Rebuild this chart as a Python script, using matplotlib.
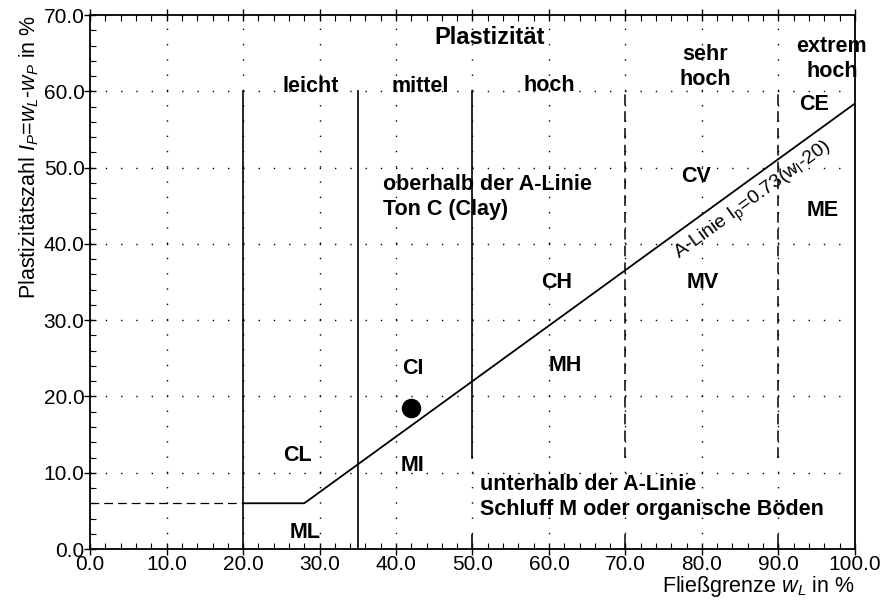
import matplotlib
matplotlib.use("Agg")
import matplotlib.pyplot as plt
from matplotlib.ticker import MultipleLocator, FormatStrFormatter

plt.rcParams['font.family'] = ['Liberation Sans', 'DejaVu Sans']
plt.rcParams['mathtext.fontset'] = 'custom'
plt.rcParams['mathtext.rm'] = 'Liberation Sans'
plt.rcParams['mathtext.it'] = 'Liberation Sans:italic'

# A-Linie: Ip = 0.73 (wL - 20), mit waagerechtem Stueck bei Ip = 6
a_x = [20, 28, 100]
a_y = [6.0, 6.0, 0.73 * (100 - 20)]

# Grenzen der Plastizitaet
solid_x = [20, 35]
broken_x = [50]
dashed_x = [70, 90]

# Messpunkt
point_x = [42]
point_y = [18.5]

# Bodengruppen (Text, wL, Ip)
groups = [("CE", 94.6, 58.3), ("CV", 79.3, 48.9), ("ME", 95.8, 44.4),
          ("MV", 80.1, 34.9), ("CH", 61.0, 35.0), ("MH", 62.2, 24.0),
          ("CI", 42.2, 23.7), ("CL", 27.1, 12.3), ("MI", 42.2, 10.9),
          ("ML", 28.1, 2.2)]
plast = [("leicht", 28.8, 60.6), ("mittel", 43.1, 60.6), ("hoch", 60.0, 60.8),
         ("sehr\nhoch", 80.4, 63.2), ("extrem\nhoch", 97.0, 64.2)]

fig = plt.figure(figsize=(8.84, 6.04), dpi=100)
ax = fig.add_axes([0.102, 0.091, 0.865, 0.884])

ax.set_xlim(0, 100)
ax.set_ylim(0, 70)
ax.xaxis.set_major_locator(MultipleLocator(10))
ax.xaxis.set_minor_locator(MultipleLocator(2))
ax.yaxis.set_major_locator(MultipleLocator(10))
ax.yaxis.set_minor_locator(MultipleLocator(2))
ax.xaxis.set_major_formatter(FormatStrFormatter('%.1f'))
ax.yaxis.set_major_formatter(FormatStrFormatter('%.1f'))
ax.tick_params(which='major', direction='inout', length=8, width=1, labelsize=15, pad=0)
ax.tick_params(which='minor', direction='in', length=4, width=0.8)
ax.tick_params(which='both', top=True, right=False)
ax.tick_params(axis='x', which='both', top=True, labeltop=False)
for s in ax.spines.values():
    s.set_linewidth(1.3)

ax.grid(True, which='major', color='black', linestyle=(0, (1, 10)), linewidth=1.0)

# Linien
for x in solid_x:
    ax.plot([x, x], [0, 60], color='black', lw=1.2)
for x in broken_x:
    ax.plot([x, x], [12, 60], color='black', lw=1.2)
    ax.plot([x, x], [0, 1.8], color='black', lw=1.2)
for x in dashed_x:
    ax.plot([x, x], [12, 60], color='black', lw=1.1, linestyle=(0, (7, 4)))
    ax.plot([x, x], [0, 1.8], color='black', lw=1.1)
ax.plot([0, 20], [6, 6], color='black', lw=0.9, linestyle=(0, (7, 4)))
ax.plot(a_x, a_y, color='black', lw=1.3)

ax.scatter(point_x, point_y, s=170, color='black', zorder=5)

for t, x, y in groups:
    ax.text(x, y, t, fontsize=15.5, fontweight='bold', ha='center', va='center')
for t, x, y in plast:
    ax.text(x, y, t, fontsize=15.5, fontweight='bold', ha='center', va='center',
            linespacing=1.25)
ax.text(52.3, 67.0, "Plastizität", fontsize=17, fontweight='bold', ha='center', va='center')
ax.text(38.3, 46.1, "oberhalb der A-Linie\nTon C (Clay)", fontsize=15.5,
        fontweight='bold', ha='left', va='center', linespacing=1.25)
ax.text(51.0, 6.8, "unterhalb der A-Linie\nSchluff M oder organische Böden", fontsize=15.5,
        fontweight='bold', ha='left', va='center', linespacing=1.25)
ax.text(77.0, 37.9, r"A-Linie I$_\mathrm{p}$=0.73(w$_\mathrm{l}$-20)", fontsize=14,
        rotation=36, rotation_mode='anchor', ha='left', va='baseline')

ax.set_xlabel(r"Fließgrenze $w_L$ in %", fontsize=15.5, loc='right', labelpad=0)
ax.set_ylabel(r"Plastizitätszahl $I_P$=$w_L$-$w_P$ in %", fontsize=15.5, loc='top', labelpad=2)

fig.savefig("out.png", dpi=100)
